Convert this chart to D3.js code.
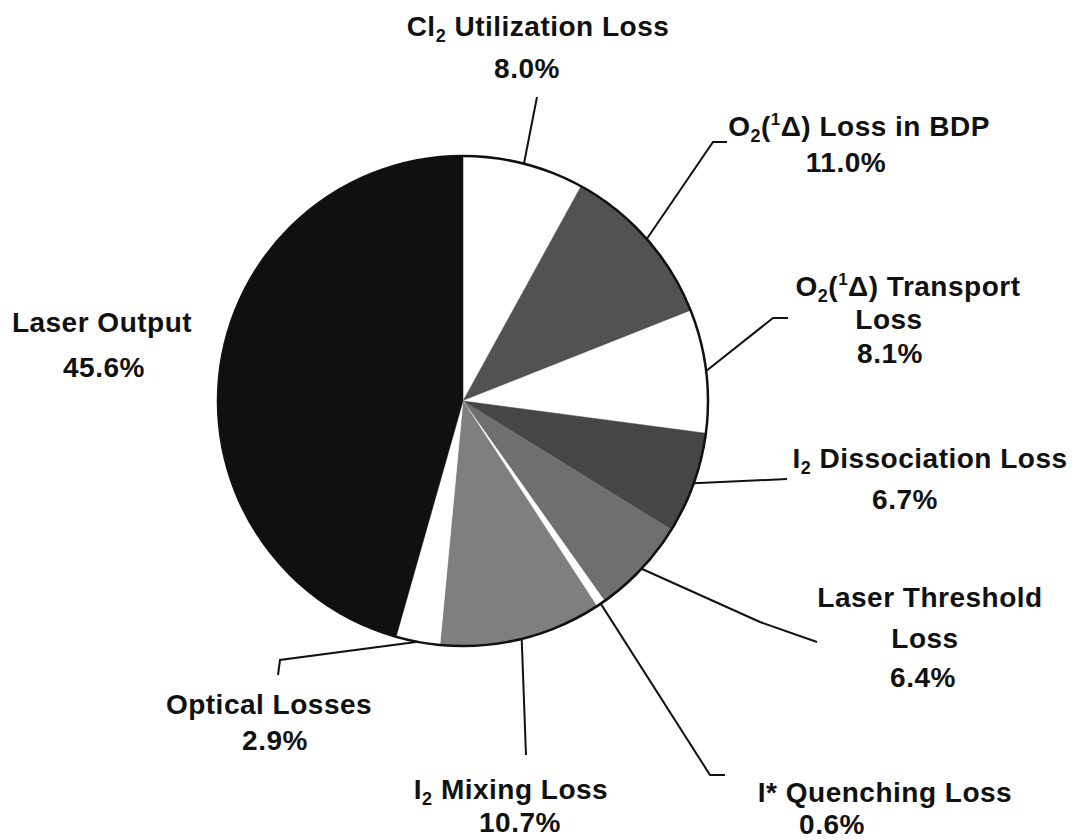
<!DOCTYPE html>
<html>
<head>
<meta charset="utf-8">
<script src="https://cdn.jsdelivr.net/npm/d3@7"></script>
<style>
    body { margin: 0; background: #fff; }
    svg { display: block; }
    .label { font-family: "Liberation Sans", Arial, Helvetica, sans-serif; font-weight: bold; font-size: 28px; letter-spacing: 0.5px; fill: #111; }
</style>
</head>
<body>
<div id="chart"></div>
<script>
"use strict"

//-----------------------------DATA-----------------------------//
// "_x" = subscript, "^x" = superscript, "|" = line break
const categories = [
    "Cl_2 Utilization Loss",
    "O_2(^1Δ) Loss in BDP",
    "O_2(^1Δ) Transport|Loss",
    "I_2 Dissociation Loss",
    "Laser Threshold|Loss",
    "I* Quenching Loss",
    "I_2 Mixing Loss",
    "Optical Losses",
    "Laser Output"
];
const values = [8.0, 11.0, 8.1, 6.7, 6.4, 0.6, 10.7, 2.9, 45.6];
const valueLabels = ["8.0%", "11.0%", "8.1%", "6.7%", "6.4%", "0.6%", "10.7%", "2.9%", "45.6%"];

//----------------------------LAYOUT----------------------------//
const width = 1076;
const height = 840;
const cx = 463;
const cy = 401;
const radius = 245;

const fills = ["#ffffff", "#525252", "#ffffff", "#464646", "#6f6f6f", "#ffffff", "#7f7f7f", "#ffffff", "#101010"];

// text line anchors (centre x, baseline y), one per line incl. the value
const labelLines = [
    [[538, 36], [527, 78]],
    [[859, 136], [846, 172]],
    [[908, 296], [889, 329], [890, 363]],
    [[930, 468], [905, 509]],
    [[930, 607], [925, 648], [923, 687]],
    [[885, 802], [832, 834]],
    [[511, 799], [520, 832]],
    [[269, 714], [275, 750]],
    [[102, 332], [104, 377]]
];
// leader line points after the rim point (null = no leader)
const leaderTails = [
    [[537, 97]],
    [[713, 142], [727, 142]],
    [[773, 318], [788, 318]],
    [[787, 479]],
    [[760, 622], [817, 642]],
    [[710, 775], [725, 775]],
    [[526, 755]],
    [[280, 660], [278, 675]],
    null
];

//-----------------------------SVG------------------------------//
const svg = d3.select("#chart").append("svg")
    .attr("width", width)
    .attr("height", height);

const data = values.map((v, i) => ({
    name: categories[i],
    value: v,
    pct: valueLabels[i],
    fill: fills[i],
    lines: labelLines[i],
    tail: leaderTails[i]
}));

const pie = d3.pie()
    .sort(null)
    .value(d => d.value);

const arc = d3.arc()
    .innerRadius(0)
    .outerRadius(radius);

const rimArc = d3.arc()
    .innerRadius(radius)
    .outerRadius(radius);

const arcs = pie(data);

//----------------------------SLICES----------------------------//
const g = svg.append("g")
    .attr("transform", `translate(${cx},${cy})`);

g.selectAll("path.slice")
    .data(arcs)
    .enter()
    .append("path")
    .attr("class", "slice")
    .attr("d", arc)
    .attr("fill", d => d.data.fill)
    .attr("stroke", d => d.data.fill)
    .attr("stroke-width", 0.5);

g.append("circle")
    .attr("r", radius)
    .attr("fill", "none")
    .attr("stroke", "#111")
    .attr("stroke-width", 2.5);

//----------------------------LEADERS---------------------------//
const line = d3.line();
svg.selectAll("path.leader")
    .data(arcs.filter(d => d.data.tail))
    .enter()
    .append("path")
    .attr("class", "leader")
    .attr("fill", "none")
    .attr("stroke", "#111")
    .attr("stroke-width", 2)
    .attr("d", d => {
        const [x0, y0] = rimArc.centroid(d);
        return line([[x0 + cx, y0 + cy]].concat(d.data.tail));
    });

//----------------------------LABELS----------------------------//
// write a string with _/^ markup into a text element as tspans;
// a shifted glyph moves the baseline, the next run moves it back
const writeRich = (textEl, str) => {
    const re = /([_^])(.)|([^_^]+)/g;
    let m;
    let back = 0;
    while ((m = re.exec(str)) !== null) {
        if (m[3]) {
            const ts = textEl.append("tspan").text(m[3]);
            if (back) ts.attr("dy", back);
            back = 0;
        } else {
            const shift = m[1] === "_" ? 6 : -11;
            textEl.append("tspan")
                .attr("font-size", m[1] === "_" ? "18px" : "17px")
                .attr("dy", shift + back)
                .text(m[2]);
            back = -shift;
        }
    }
};

arcs.forEach(d => {
    const rows = d.data.name.split("|").concat([d.data.pct]);
    rows.forEach((row, j) => {
        const [x, y] = d.data.lines[j];
        const t = svg.append("text")
            .attr("class", "label")
            .attr("x", x)
            .attr("y", y)
            .attr("text-anchor", "middle");
        writeRich(t, row);
    });
});
</script>
</body>
</html>
